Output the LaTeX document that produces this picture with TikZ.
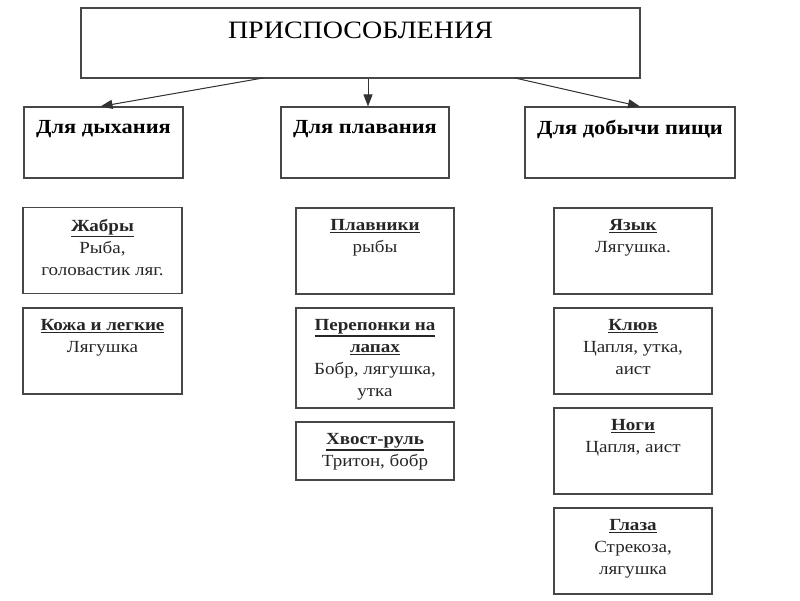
\documentclass[tikz,border=0pt]{standalone}
\usepackage{fontspec}
\setmainfont{Liberation Serif}[FakeStretch=1.12]
\usetikzlibrary{arrows.meta}
\newcommand\myul[1]{\leavevmode\vtop{\hbox{#1}\kern0.8pt\hrule height 1.6pt}}
\begin{document}
\begin{tikzpicture}[x=1pt,y=-1pt,
  box/.style={draw=black!72, line width=1.1pt, inner sep=0pt},
  title/.style={font=\fontsize{25}{28}\selectfont, inner sep=0pt},
  head/.style={font=\bfseries\fontsize{20}{24}\selectfont, inner sep=0pt},
  item/.style={font=\fontsize{17}{22}\selectfont, align=center, anchor=north, inner sep=0pt, text=black!85},
  arr/.style={-{Triangle[length=12pt,width=9pt]}, line width=1pt, draw=black!80, fill=black!80}]
\useasboundingbox (0,0) rectangle (800,600);
% top
\node[box, minimum width=559pt, minimum height=70pt] (top) at (360.5,43) {};
\node[title] (tt) at ([yshift=-23pt]top.north) {ПРИСПОСОБЛЕНИЯ};
% second row
\node[box, minimum width=159pt, minimum height=71pt] (d1) at (103.5,142.5) {};
\node[box, minimum width=168pt, minimum height=71pt] (d2) at (365,142.5) {};
\node[box, minimum width=210pt, minimum height=71pt] (d3) at (630,142.5) {};
\node[head] (h1) at ([yshift=-23pt]d1.north) {Для дыхания};
\node[head] (h2) at ([yshift=-23pt]d2.north) {Для плавания};
\node[head] (h3) at ([yshift=-23pt]d3.north) {Для добычи пищи};
% arrows
\coordinate (s1) at (263,78);
\coordinate (s3) at (515,78);
\draw[arr] (s1) -- ([xshift=-3pt]d1.north);
\draw[arr] (top.south -| 368,0) -- (d2.north -| 368,0);
\draw[arr] (s3) -- ([xshift=10pt]d3.north);
% left column
\node[box, minimum width=159pt, minimum height=86pt] (b1) at (102.5,250.5) {};
\node[item] (t1) at ([yshift=-12pt]b1.north) {\myul{\textbf{Жабры}}\\Рыба,\\головастик ляг.};
\node[box, minimum width=159pt, minimum height=86pt] (b2) at (102.5,351) {};
\node[item] (t2) at ([yshift=-12pt]b2.north) {\myul{\textbf{Кожа и легкие}}\\Лягушка};
% middle column
\node[box, minimum width=158pt, minimum height=86pt] (c1) at (375,251) {};
\node[item] (u1) at ([yshift=-12pt]c1.north) {\myul{\textbf{Плавники}}\\рыбы};
\node[box, minimum width=158pt, minimum height=100pt] (c2) at (375,358) {};
\node[item] (u2) at ([yshift=-12pt]c2.north) {\myul{\textbf{Перепонки на}}\\\myul{\textbf{лапах}}\\Бобр, лягушка,\\утка};
\node[box, minimum width=158pt, minimum height=58pt] (c3) at (375,451) {};
\node[item] (u3) at ([yshift=-12pt]c3.north) {\myul{\textbf{Хвост-руль}}\\Тритон, бобр};
% right column
\node[box, minimum width=158pt, minimum height=86pt] (r1) at (633,251) {};
\node[item] (v1) at ([yshift=-12pt]r1.north) {\myul{\textbf{Язык}}\\Лягушка.};
\node[box, minimum width=158pt, minimum height=86pt] (r2) at (633,351) {};
\node[item] (v2) at ([yshift=-12pt]r2.north) {\myul{\textbf{Клюв}}\\Цапля, утка,\\аист};
\node[box, minimum width=158pt, minimum height=86pt] (r3) at (633,451) {};
\node[item] (v3) at ([yshift=-12pt]r3.north) {\myul{\textbf{Ноги}}\\Цапля, аист};
\node[box, minimum width=158pt, minimum height=86pt] (r4) at (633,551) {};
\node[item] (v4) at ([yshift=-12pt]r4.north) {\myul{\textbf{Глаза}}\\Стрекоза,\\лягушка};
\end{tikzpicture}
\end{document}
